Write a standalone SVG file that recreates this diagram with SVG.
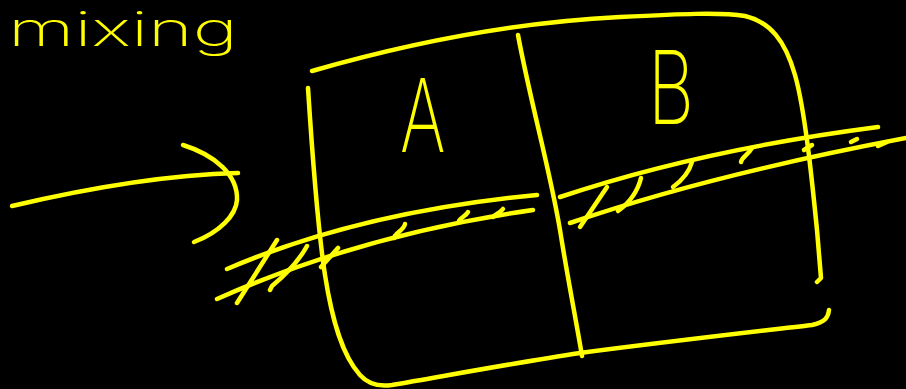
<svg xmlns="http://www.w3.org/2000/svg" width="906" height="389" viewBox="0 0 906 389">
<style>
.s{fill:none;stroke:#ffff00;stroke-width:4.5;stroke-linecap:round;stroke-linejoin:round}
.t{fill:#ffff00;font-family:Inter,"Liberation Sans",sans-serif;font-weight:200}
</style>
<rect width="906" height="389" fill="#000"/>
<g id="title"><text class="t" x="8" y="46" font-size="48" textLength="230" lengthAdjust="spacingAndGlyphs">mixing</text></g>
<g id="box">
<path class="s" d="M312,71 C420,40 520,22 620,17 C680,14 720,12 745,16 C770,22 785,40 795,75 C805,110 812,180 817,230 L821,278 L817,282"/>
<path class="s" d="M308,88 C312,150 318,230 325,275 C332,320 342,355 360,375 C368,384 378,387 392,385 C450,375 520,362 580,353 C680,340 770,330 812,325 C825,322 828,318 829,310"/>
<path class="s" d="M518,35 C530,100 550,170 560,230 C568,280 576,320 582,356"/>
</g>
<g id="cellA"><text class="t" transform="translate(400,152) scale(0.68,1)" font-size="102">A</text></g>
<g id="cellB"><text class="t" transform="translate(648,124) scale(0.7,1)" font-size="102">B</text></g>
<g id="connectors">
<path class="s" d="M12,206 C80,190 160,175 238,173"/>
<path class="s" d="M183,145 C215,155 238,175 237,200 C236,215 220,232 194,242"/>
</g>
<g id="band-left">
<path class="s" d="M227,269 Q360,212 537,195"/>
<path class="s" d="M217,299 Q360,235 533,210"/>
<path class="s" d="M277,240 L237,303"/>
<path class="s" d="M307,246 Q296,266 272,286 L270,290"/>
<path class="s" d="M338,248 L321,267"/>
<path class="s" d="M405,224 C404,230 395,233 394,238"/>
<path class="s" d="M468,212 C466,216 460,218 459,221"/>
<path class="s" d="M503,209 C500,213 494,215 493,217"/>
</g>
<g id="band-right">
<path class="s" d="M560,197 Q700,150 878,127"/>
<path class="s" d="M570,223 Q710,175 906,138"/>
<path class="s" d="M607,187 L580,227"/>
<path class="s" d="M641,178 Q636,198 618,211"/>
<path class="s" d="M692,162 Q688,176 673,187"/>
<path class="s" d="M752,148 C748,155 742,157 741,162"/>
<path class="s" d="M812,145 L804,150"/>
<path class="s" d="M851,142 L857,139"/>
<path class="s" d="M878,146 L887,142"/>
</g>
</svg>
